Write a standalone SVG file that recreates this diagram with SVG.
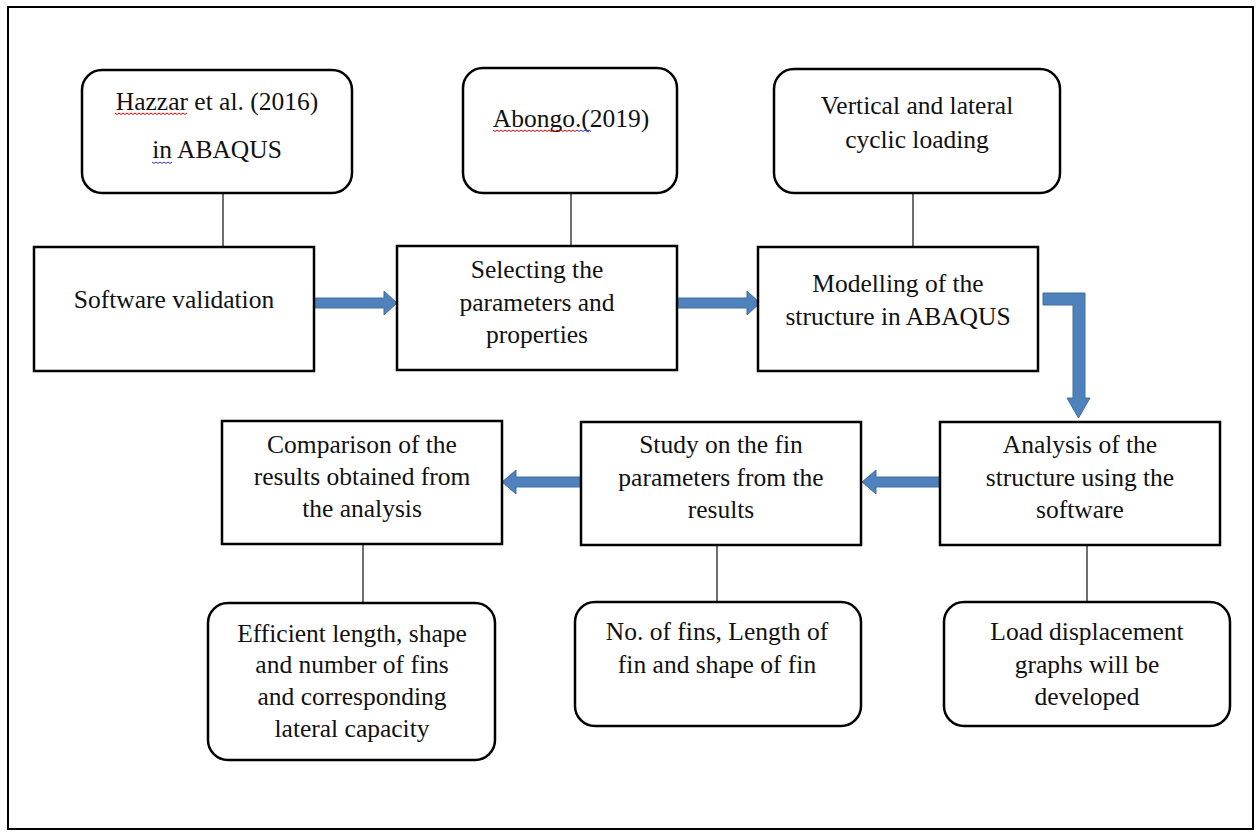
<svg xmlns="http://www.w3.org/2000/svg" width="1259" height="835" viewBox="0 0 1259 835">
<style>
.box{fill:#fff;stroke:#000;stroke-width:2.5}
.t{font-family:"Liberation Serif","Times New Roman",serif;font-size:25.5px;fill:#111;text-anchor:middle}
.ln{stroke:#222;stroke-width:1.3;fill:none}
.arr{fill:#4F81BD;stroke:#41719C;stroke-width:1}
.sq{fill:none;stroke-width:1}
</style>
<rect x="0" y="0" width="1259" height="835" fill="#fff"/>
<rect x="8" y="7" width="1245" height="822" fill="none" stroke="#000" stroke-width="2"/>
<g id="connectors">
<line class="ln" x1="223" y1="193" x2="223" y2="247"/>
<line class="ln" x1="571" y1="193" x2="571" y2="246"/>
<line class="ln" x1="913" y1="193" x2="913" y2="247"/>
<line class="ln" x1="1087" y1="545" x2="1087" y2="602"/>
<line class="ln" x1="717" y1="545" x2="717" y2="602"/>
<line class="ln" x1="363" y1="544" x2="363" y2="603"/>
<polygon class="arr" points="314,298 384,298 384,291 397,303 384,315 384,308 314,308"/>
<polygon class="arr" points="677,298 747,298 747,291 760,303 747,315 747,308 677,308"/>
<polygon class="arr" points="1043,293 1085,293 1085,398 1090,398 1078.5,418 1067,398 1073,398 1073,305 1043,305"/>
<polygon class="arr" points="940,477 876,477 876,470 862,482 876,494 876,487 940,487"/>
<polygon class="arr" points="581,477 516,477 516,470 502,482 516,494 516,487 581,487"/>
</g>
<g id="hazzar">
<rect class="box" x="82" y="70" width="270" height="123" rx="20"/>
<text class="t" x="217" y="110">Hazzar et al. (2016)</text>
<text class="t" x="217" y="158">in ABAQUS</text>
<path class="sq" stroke="#d00" d="M115,113 l2,1.5 l2,-1.5 l2,1.5 l2,-1.5 l2,1.5 l2,-1.5 l2,1.5 l2,-1.5 l2,1.5 l2,-1.5 l2,1.5 l2,-1.5 l2,1.5 l2,-1.5 l2,1.5 l2,-1.5 l2,1.5 l2,-1.5 l2,1.5 l2,-1.5 l2,1.5 l2,-1.5 l2,1.5 l2,-1.5 l2,1.5 l2,-1.5 l2,1.5 l2,-1.5 l2,1.5 l2,-1.5 l2,1.5 l2,-1.5 l2,1.5 l2,-1.5 l2,1.5 l2,-1.5"/>
<path class="sq" stroke="#33c" d="M152,162 l2,1.5 l2,-1.5 l2,1.5 l2,-1.5 l2,1.5 l2,-1.5 l2,1.5 l2,-1.5 l2,1.5 l2,-1.5"/>
</g>
<g id="software">
<rect class="box" x="34" y="247" width="280" height="124"/>
<text class="t" x="174" y="308">Software validation</text>
</g>
<g id="abongo">
<rect class="box" x="463" y="68" width="214" height="125" rx="20"/>
<text class="t" x="571" y="127">Abongo.(2019)</text>
<path class="sq" stroke="#d00" d="M493,130 l2,1.5 l2,-1.5 l2,1.5 l2,-1.5 l2,1.5 l2,-1.5 l2,1.5 l2,-1.5 l2,1.5 l2,-1.5 l2,1.5 l2,-1.5 l2,1.5 l2,-1.5 l2,1.5 l2,-1.5 l2,1.5 l2,-1.5 l2,1.5 l2,-1.5 l2,1.5 l2,-1.5 l2,1.5 l2,-1.5 l2,1.5 l2,-1.5 l2,1.5 l2,-1.5 l2,1.5 l2,-1.5 l2,1.5 l2,-1.5 l2,1.5 l2,-1.5 l2,1.5 l2,-1.5 l2,1.5 l2,-1.5 l2,1.5 l2,-1.5 l2,1.5 l2,-1.5"/>
<path class="sq" stroke="#33c" d="M577,130 l2,1.5 l2,-1.5 l2,1.5 l2,-1.5 l2,1.5 l2,-1.5 l2,1.5"/>
</g>
<g id="selecting">
<rect class="box" x="397" y="246" width="280" height="124"/>
<text class="t" x="537" y="278">Selecting the</text>
<text class="t" x="537" y="311">parameters and</text>
<text class="t" x="537" y="343">properties</text>
</g>
<g id="vertical">
<rect class="box" x="774" y="69" width="286" height="124" rx="20"/>
<text class="t" x="917" y="114">Vertical and lateral</text>
<text class="t" x="917" y="148">cyclic loading</text>
</g>
<g id="modelling">
<rect class="box" x="758" y="247" width="280" height="124"/>
<text class="t" x="898" y="292">Modelling of the</text>
<text class="t" x="898" y="325">structure in ABAQUS</text>
</g>
<g id="analysis">
<rect class="box" x="940" y="422" width="280" height="123"/>
<text class="t" x="1080" y="453">Analysis of the</text>
<text class="t" x="1080" y="486">structure using the</text>
<text class="t" x="1080" y="518">software</text>
</g>
<g id="load">
<rect class="box" x="944" y="602" width="286" height="124" rx="20"/>
<text class="t" x="1087" y="640">Load displacement</text>
<text class="t" x="1087" y="673">graphs will be</text>
<text class="t" x="1087" y="705">developed</text>
</g>
<g id="study">
<rect class="box" x="581" y="422" width="280" height="123"/>
<text class="t" x="721" y="453">Study on the fin</text>
<text class="t" x="721" y="486">parameters from the</text>
<text class="t" x="721" y="518">results</text>
</g>
<g id="nofins">
<rect class="box" x="575" y="602" width="286" height="124" rx="20"/>
<text class="t" x="717" y="640">No. of fins, Length of</text>
<text class="t" x="717" y="673">fin and shape of fin</text>
</g>
<g id="comparison">
<rect class="box" x="222" y="421" width="280" height="123"/>
<text class="t" x="362" y="453">Comparison of the</text>
<text class="t" x="362" y="485">results obtained from</text>
<text class="t" x="362" y="517">the analysis</text>
</g>
<g id="efficient">
<rect class="box" x="208" y="603" width="287" height="157" rx="20"/>
<text class="t" x="352" y="642">Efficient length, shape</text>
<text class="t" x="352" y="673">and number of fins</text>
<text class="t" x="352" y="705">and corresponding</text>
<text class="t" x="352" y="737">lateral capacity</text>
</g>
</svg>
